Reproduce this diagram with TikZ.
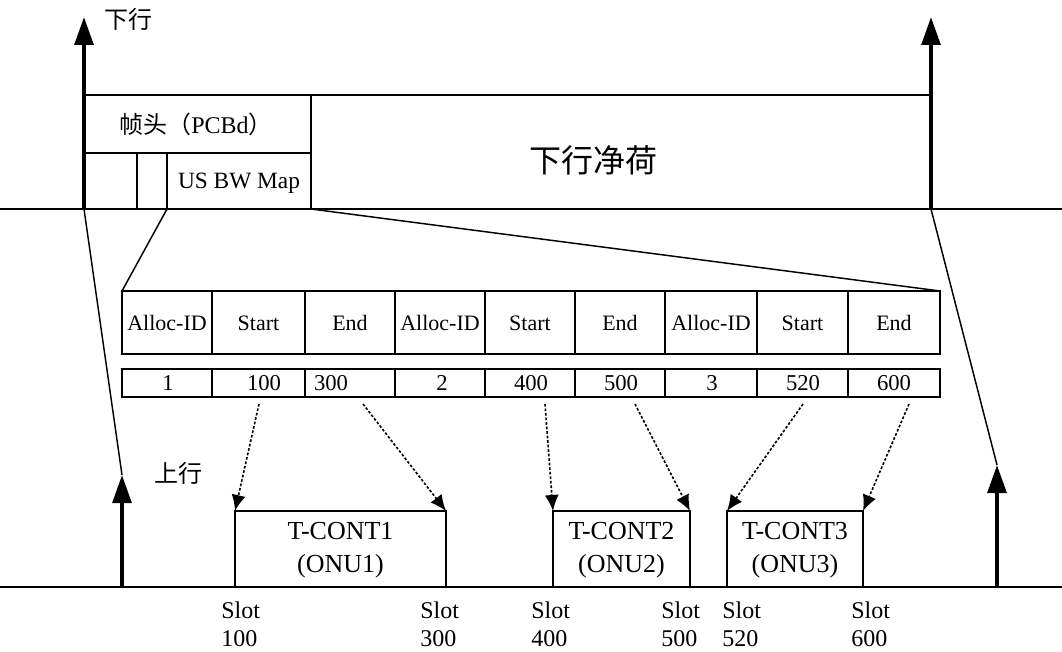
\documentclass[tikz,border=0pt]{standalone}
\usepackage{fontspec}
\setmainfont{Liberation Serif}
\newfontfamily\cjk{Noto Sans CJK SC}
\usetikzlibrary{arrows.meta}
\begin{document}
\begin{tikzpicture}[x=0.75pt,y=-0.75pt,
  thinline/.style={line width=1.1pt},
  thickarrow/.style={line width=3pt,-{Triangle[length=21pt,width=14pt]}},
  dotarrow/.style={line width=1.2pt,dash pattern=on 2pt off 1.4pt,-{Latex[length=12pt,width=10.5pt]}},
  txt/.style={inner sep=0pt,font=\fontsize{16.5}{19}\selectfont},
  box/.style={draw,line width=1.1pt,inner sep=0pt},
]
\useasboundingbox (0,0) rectangle (1062,652);
% main axes
\coordinate (L0) at (0,209); \coordinate (R0) at (1062,209);
\coordinate (L1) at (0,587); \coordinate (R1) at (1062,587);
\draw[thinline] (L0) -- (R0);
\draw[thinline] (L1) -- (R1);
% downstream arrows
\coordinate (dA) at (84,209); \coordinate (dAt) at (84,17);
\coordinate (dB) at (931,209); \coordinate (dBt) at (931,17);
\draw[thickarrow] (dA) -- (dAt);
\draw[thickarrow] (dB) -- (dBt);
\node[txt,font=\fontsize{18}{20}\selectfont\cjk] (dl) at (128,19) {下行};
% frame header
\coordinate (hTL) at (84,95); \coordinate (hTR) at (311,95); \coordinate (pTR) at (931,95);
\coordinate (hBR) at (311,209);
\draw[thinline] (hTL) -- (pTR);
\draw[thinline] (hTR) -- (hBR);
\draw[thinline] (84,153) -- (311,153);
\draw[thinline] (137,153) -- (137,209);
\coordinate (mapL) at (167,209);
\draw[thinline] (167,153) -- (mapL);
\node[txt,font=\fontsize{18}{20}\selectfont] (hdr) at (196,124) {{\cjk 帧头（}PCBd{\cjk ）}};
\node[txt,font=\fontsize{17.5}{20}\selectfont] (map) at (239,183) {US BW Map};
\node[txt,font=\fontsize{24}{26}\selectfont\cjk] (pay) at (593,160) {下行净荷};
% upstream arrows
\coordinate (uA) at (122,587); \coordinate (uAt) at (122,475);
\coordinate (uB) at (997,587); \coordinate (uBt) at (997,465);
\draw[thickarrow] (uA) -- (uAt);
\draw[thickarrow] (uB) -- (uBt);
\draw[thinline] (dA) -- (uAt);
\draw[thinline] (dB) -- (uBt);
\node[txt,font=\fontsize{18}{20}\selectfont\cjk] (ul) at (178,473) {上行};
% BW map table
\coordinate (tTL) at (122,291); \coordinate (tTR) at (940,291);
\draw[thinline] (mapL) -- (tTL);
\draw[thinline] (hBR) -- (tTR);
\foreach \a/\b/\t [count=\i] in {122/212/Alloc-ID,212/305/Start,305/395/End,395/485/Alloc-ID,485/575/Start,575/665/End,665/757/Alloc-ID,757/848/Start,848/940/End}{
  \draw[thinline] (\a,291) rectangle (\b,354);
  \draw[thinline] (\a,369) rectangle (\b,397);
  \node[txt] (h\i) at ({(\a+\b)/2},323) {\t};
}
\foreach \x/\t [count=\i] in {168/1,264/100,331/300,442/2,531/400,621/500,712/3,803/520,894/600}{
  \node[txt,font=\fontsize{17}{19}\selectfont] (v\i) at (\x,383) {\t};
}
% T-CONT boxes
\draw[thinline] (235,511) rectangle (446,587);
\draw[thinline] (553,511) rectangle (690,587);
\draw[thinline] (727,511) rectangle (863,587);
\coordinate (t1l) at (235,511); \coordinate (t1r) at (446,511);
\coordinate (t2l) at (553,511); \coordinate (t2r) at (690,511);
\coordinate (t3l) at (727,511); \coordinate (t3r) at (863,511);
\node[txt,align=center,font=\fontsize{19.5}{24.5}\selectfont] (c1) at (340.5,550) {T-CONT1\\(ONU1)};
\node[txt,align=center,font=\fontsize{19.5}{24.5}\selectfont] (c2) at (621.5,550) {T-CONT2\\(ONU2)};
\node[txt,align=center,font=\fontsize{19.5}{24.5}\selectfont] (c3) at (795,550) {T-CONT3\\(ONU3)};
% dotted arrows
\coordinate (s1) at (259,404); \coordinate (s2) at (363,404);
\coordinate (s3) at (545,404); \coordinate (s4) at (635,404);
\coordinate (s5) at (803,404); \coordinate (s6) at (909,404);
\draw[dotarrow] (s1) -- (t1l);
\draw[dotarrow] (s2) -- (t1r);
\draw[dotarrow] (s3) -- (t2l);
\draw[dotarrow] (s4) -- (t2r);
\draw[dotarrow] (s5) -- (t3l);
\draw[dotarrow] (s6) -- (t3r);
% slot labels
\foreach \x/\n [count=\i] in {221/100,420/300,531/400,661/500,722/520,851/600}{
  \node[txt,anchor=base west,font=\fontsize{18}{20}\selectfont] (sl\i) at (\x,618) {Slot};
  \node[txt,anchor=base west,font=\fontsize{18}{20}\selectfont] (sn\i) at (\x,646) {\n};
}
\end{tikzpicture}
\end{document}
